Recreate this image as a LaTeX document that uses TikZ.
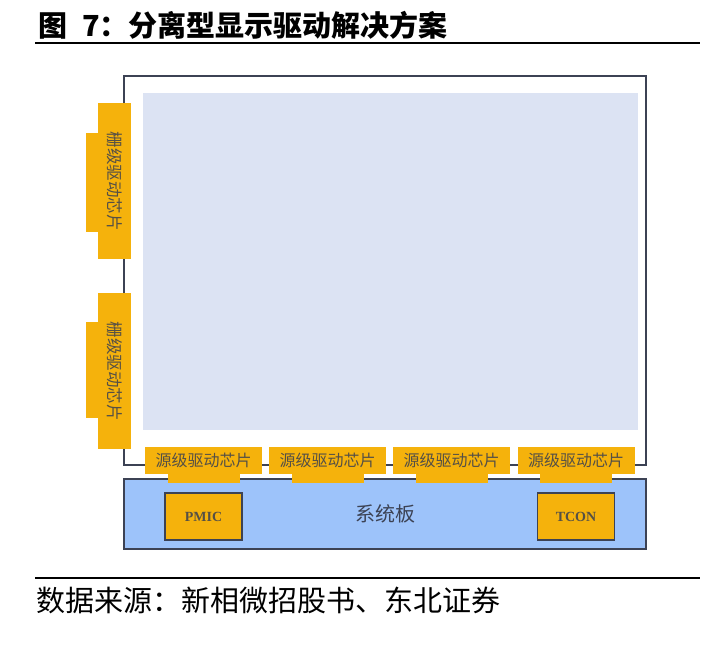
\documentclass[tikz,border=0pt]{standalone}
\usepackage{fontspec}
\setmainfont{Liberation Serif}
\newfontfamily\cjk{Noto Sans CJK SC}
\usetikzlibrary{positioning}
\definecolor{ChipGold}{RGB}{245,178,12}
\definecolor{PanelBlue}{RGB}{220,227,243}
\definecolor{BoardBlue}{RGB}{157,195,250}
\definecolor{EdgeGray}{RGB}{60,66,84}
\definecolor{ChipText}{RGB}{85,80,70}

\begin{document}
\begin{tikzpicture}[x=1pt, y=-1pt,
		chip/.style={fill=ChipGold, inner sep=0pt, text=ChipText},
		gate/.style={chip, rotate=-90, minimum width=156pt, minimum height=33pt, font=\cjk\fontsize{16.5}{16.5}\selectfont},
		src/.style={chip, minimum width=117pt, minimum height=27pt, font=\cjk\fontsize{16}{16}\selectfont},
		ic/.style={fill=ChipGold, draw=EdgeGray, line width=1.2pt, minimum width=77pt, minimum height=47pt, text=ChipText, font=\bfseries\fontsize{14}{14}\selectfont}]
		\useasboundingbox (0,0) rectangle (714,651);
		% 标题
		\node[anchor=west, font=\cjk\bfseries\fontsize{29}{29}\selectfont] (title) at (35,25) {图\hspace{0.5em}7：分离型显示驱动解决方案};
		\draw[line width=2.5pt] (35,43) -- (700,43);
		% 面板
		\draw[line width=1.2pt, EdgeGray] (124,76) rectangle (646,465);
		\fill[PanelBlue] (143,93) rectangle (638,430);
		% 系统板
		\node[fill=BoardBlue, draw=EdgeGray, line width=1.2pt, minimum width=522pt, minimum height=70pt, font=\cjk\fontsize{20}{20}\selectfont, text=EdgeGray] (board) at (385,514) {系统板};
		\node[ic] (pmic) at (203.5,516.5) {PMIC};
		\node[ic] (tcon) at (576,516.5) {TCON};
		% 栅级驱动芯片
		\fill[ChipGold] (86,133) rectangle (99,232);
		\node[gate] (gate1) at (114.5,181) {栅级驱动芯片};
		\fill[ChipGold] (86,322) rectangle (99,418);
		\node[gate] (gate2) at (114.5,371) {栅级驱动芯片};
		% 源级驱动芯片
		\foreach \i/\cx in {1/203.5, 2/327.5, 3/451.5, 4/576}{
			\fill[ChipGold] (\cx-36,470) rectangle (\cx+36,483);
			\node[src] (src\i) at (\cx,460.5) {源级驱动芯片};
		}
		% 来源
		\draw[line width=2.5pt] (35,578) -- (700,578);
		\node[anchor=west, font=\cjk\fontsize{29}{29}\selectfont] (note) at (33,600) {数据来源：新相微招股书、东北证券};
	\end{tikzpicture}
\end{document}
